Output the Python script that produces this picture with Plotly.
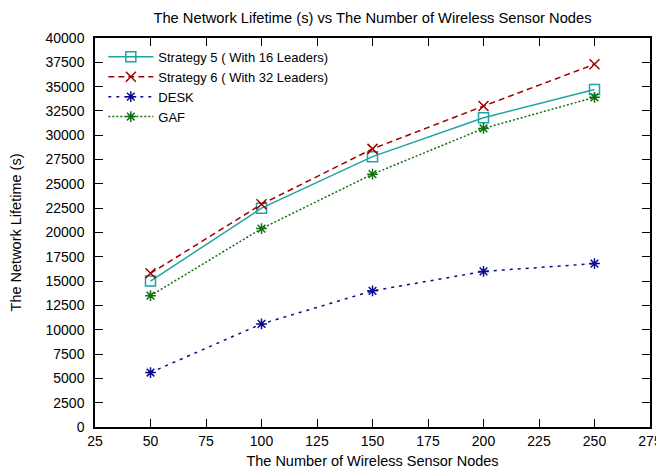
import plotly.graph_objects as go

nodes = [50, 100, 150, 200, 250]
strategy5 = [15000, 22500, 27800, 31800, 34700]
strategy6 = [15800, 22900, 28600, 33000, 37300]
desk = [5600, 10600, 14000, 16000, 16800]
gaf = [13500, 20400, 26000, 30700, 33900]

x_ticks = list(range(25, 276, 25))
y_ticks = list(range(0, 40001, 2500))

FONT = "Liberation Sans, Arial, sans-serif"
FS = 14

fig = go.Figure()
fig.add_trace(go.Scatter(
    x=nodes, y=strategy5, mode="lines+markers", name="Strategy 5 ( With 16 Leaders)",
    line=dict(color="#1fa3a3", width=1.5),
    marker=dict(symbol="square-open", size=10, color="#1fa3a3", line=dict(width=1.5))))
fig.add_trace(go.Scatter(
    x=nodes, y=strategy6, mode="lines+markers", name="Strategy 6 ( With 32 Leaders)",
    line=dict(color="#a00000", width=1.5, dash="6px,4px"),
    marker=dict(symbol="x-thin-open", size=10, color="#a00000", line=dict(width=1.5, color="#a00000"))))
fig.add_trace(go.Scatter(
    x=nodes, y=desk, mode="lines+markers", name="DESK",
    line=dict(color="#0a0a90", width=1.5, dash="3px,5px"),
    marker=dict(symbol="asterisk-open", size=9, color="#0a0a90", line=dict(width=1.5, color="#0a0a90"))))
fig.add_trace(go.Scatter(
    x=nodes, y=gaf, mode="lines+markers", name="GAF",
    line=dict(color="#107010", width=1.5, dash="2px,2px"),
    marker=dict(symbol="asterisk-open", size=9, color="#107010", line=dict(width=1.5, color="#107010"))))

axis_common = dict(
    showgrid=False, zeroline=False, showline=True, linecolor="black", linewidth=1.5,
    mirror="ticks", ticks="inside", ticklen=8, tickwidth=1, tickcolor="black",
    tickfont=dict(family=FONT, size=FS, color="black"), automargin=False,
)

fig.update_layout(
    width=664, height=469,
    margin=dict(l=87, r=22, t=30, b=50),
    paper_bgcolor="white", plot_bgcolor="white",
    font=dict(family=FONT, size=FS, color="black"),
    title=dict(text="The Network Lifetime (s) vs The Number of Wireless Sensor Nodes",
               x=0.5, xanchor="center", xref="paper", y=1 - 10 / 469, yanchor="middle",
               font=dict(family=FONT, size=14.7, color="black"), automargin=False),
    xaxis=dict(range=[25, 275], tickvals=x_ticks, ticktext=[str(v) for v in x_ticks],
               title=dict(text="The Number of Wireless Sensor Nodes", standoff=8,
                          font=dict(family=FONT, size=14.5)),
               **axis_common),
    yaxis=dict(range=[0, 40000], tickvals=y_ticks, ticktext=[str(v) for v in y_ticks],
               ticklabelstandoff=6,
               title=dict(text="The Network Lifetime (s)", standoff=21,
                          font=dict(family=FONT, size=14.5)),
               **axis_common),
    legend=dict(x=0.015, y=0.99, xanchor="left", yanchor="top",
                bgcolor="rgba(255,255,255,0)", borderwidth=0,
                font=dict(family=FONT, size=13), tracegroupgap=0,
                itemwidth=45),
    showlegend=True,
)

fig.write_html("out.html")
